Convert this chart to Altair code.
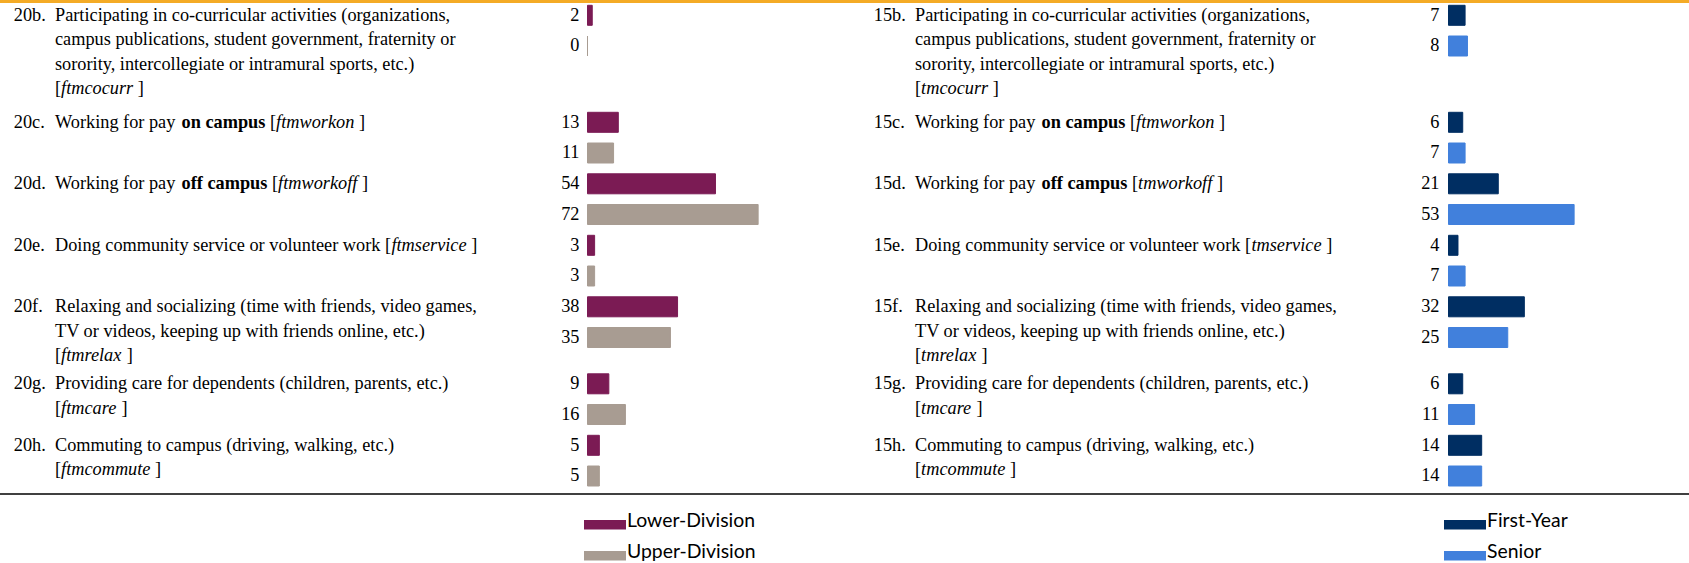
import re
import altair as alt
import pandas as pd

# ---------------- data ----------------
left_ids = ["20b.", "20c.", "20d.", "20e.", "20f.", "20g.", "20h."]
right_ids = ["15b.", "15c.", "15d.", "15e.", "15f.", "15g.", "15h."]

left_labels = [
    ["Participating in co-curricular activities (organizations,",
     "campus publications, student government, fraternity or",
     "sorority, intercollegiate or intramural sports, etc.)",
     "[*ftmcocurr* ]"],
    ["Working for pay **on campus** [*ftmworkon* ]"],
    ["Working for pay **off campus** [*ftmworkoff* ]"],
    ["Doing community service or volunteer work [*ftmservice* ]"],
    ["Relaxing and socializing (time with friends, video games,",
     "TV or videos, keeping up with friends online, etc.)",
     "[*ftmrelax* ]"],
    ["Providing care for dependents (children, parents, etc.)",
     "[*ftmcare* ]"],
    ["Commuting to campus (driving, walking, etc.)",
     "[*ftmcommute* ]"],
]
right_labels = [
    ["Participating in co-curricular activities (organizations,",
     "campus publications, student government, fraternity or",
     "sorority, intercollegiate or intramural sports, etc.)",
     "[*tmcocurr* ]"],
    ["Working for pay **on campus** [*ftmworkon* ]"],
    ["Working for pay **off campus** [*tmworkoff* ]"],
    ["Doing community service or volunteer work [*tmservice* ]"],
    ["Relaxing and socializing (time with friends, video games,",
     "TV or videos, keeping up with friends online, etc.)",
     "[*tmrelax* ]"],
    ["Providing care for dependents (children, parents, etc.)",
     "[*tmcare* ]"],
    ["Commuting to campus (driving, walking, etc.)",
     "[*tmcommute* ]"],
]

left_series = ["Lower-Division", "Upper-Division"]
right_series = ["First-Year", "Senior"]
lower_division = [2, 13, 54, 3, 38, 9, 5]
upper_division = [0, 11, 72, 3, 35, 16, 5]
first_year = [7, 6, 21, 4, 32, 6, 14]
senior = [8, 7, 53, 7, 25, 11, 14]

left_colors = ["#7B1B54", "#A89C92"]
right_colors = ["#002E62", "#4180DC"]

# ---------------- layout / styling ----------------
W, H = 1689, 563
FONT = "Liberation Serif"
FS = 18.3
PANEL_X = [0, 860]
BAR_START = [587.5, 1448.5]
PX_PER_UNIT = 2.37
NUM_X = 13.8
BODY_X = 55.0
VAL_X = 579.5
LINE_H = 24.5
BAR_GAP = 30.7
BAR_H = 20
FIRST_CENTER = 15.3

# Times (Liberation Serif metric-compatible) advance widths, per 1000 em
_reg = dict(zip("abcdefghijklmnopqrstuvwxyz",
                [444, 500, 444, 500, 444, 333, 500, 500, 278, 278, 500, 278, 778,
                 500, 500, 500, 500, 333, 389, 278, 500, 500, 722, 500, 500, 444]))
_reg.update(dict(zip("ABCDEFGHIJKLMNOPQRSTUVWXYZ",
                     [722, 667, 667, 722, 611, 556, 722, 722, 333, 389, 722, 611, 889,
                      722, 722, 556, 722, 667, 556, 611, 722, 722, 944, 722, 722, 611])))
_reg.update({" ": 250, ",": 250, ".": 250, "-": 333, "(": 333, ")": 333, "[": 333,
             "]": 333, ":": 278, ";": 278})
_reg.update({d: 500 for d in "0123456789"})
_bold = dict(zip("abcdefghijklmnopqrstuvwxyz",
                 [500, 556, 444, 556, 444, 333, 500, 556, 278, 333, 556, 278, 833,
                  556, 500, 556, 556, 444, 389, 333, 556, 500, 722, 500, 500, 444]))
_bold.update({" ": 250})
_ital = dict(zip("abcdefghijklmnopqrstuvwxyz",
                 [500, 500, 444, 500, 444, 278, 500, 500, 278, 278, 444, 278, 722,
                  500, 500, 500, 500, 389, 389, 278, 500, 444, 667, 444, 444, 389]))
_ital.update({" ": 250})
METRICS = {"regular": _reg, "bold": _bold, "italic": _ital}


def text_width(s, style):
    m = METRICS[style]
    return sum(m.get(c, 500) for c in s) * FS / 1000.0


def parse(line):
    segs = []
    for part in re.split(r"(\*\*.+?\*\*|\*.+?\*)", line):
        if not part:
            continue
        if part.startswith("**"):
            segs.append((part[2:-2], "bold"))
        elif part.startswith("*"):
            segs.append((part[1:-1], "italic"))
        else:
            segs.append((part, "regular"))
    return segs


text_rows = []
bar_rows = []
for p, (ids, labels, series, vals) in enumerate([
        (left_ids, left_labels, left_series, [lower_division, upper_division]),
        (right_ids, right_labels, right_series, [first_year, senior])]):
    ox = PANEL_X[p]
    yc = FIRST_CENTER
    for i, lines in enumerate(labels):
        base = yc + 5.4
        text_rows.append(dict(x=ox + NUM_X, y=base, text=ids[i], style="regular", kind="label"))
        for k, line in enumerate(lines):
            cx = ox + BODY_X
            for seg, style in parse(line):
                stripped = seg.lstrip(" ")
                cx += text_width(seg[: len(seg) - len(stripped)], style)
                if stripped.strip():
                    text_rows.append(dict(x=cx, y=base + k * LINE_H, text=stripped,
                                          style=style, kind="label"))
                cx += text_width(stripped, style)
        for j, s in enumerate(series):
            c = yc + j * BAR_GAP
            v = vals[j][i]
            bar_rows.append(dict(panel=p, series=s, value=v, y0=c - BAR_H / 2, y1=c + BAR_H / 2))
            text_rows.append(dict(x=ox + VAL_X, y=c + 5.4, text=str(v), style="regular", kind="value"))
        yc += max(61.5, 30 * len(lines) - 13)

text_df = pd.DataFrame(text_rows)
bar_df = pd.DataFrame(bar_rows)
line_df = pd.DataFrame({"k": [0]})

X_PIX = alt.X("x:Q", scale=None, axis=None)
Y_PIX = alt.Y("y:Q", scale=None, axis=None)

top_rule = alt.Chart(line_df).mark_rule(color="#F4AB26", strokeWidth=3).encode(
    x=alt.value(0), x2=alt.value(W), y=alt.value(1.5))
bottom_rule = alt.Chart(line_df).mark_rule(color="black", strokeWidth=1.5).encode(
    x=alt.value(0), x2=alt.value(W), y=alt.value(494))


def text_layer(style, kind, align):
    mark_kw = dict(font=FONT, fontSize=FS, color="black", align=align, baseline="alphabetic")
    if style == "bold":
        mark_kw["fontWeight"] = "bold"
    if style == "italic":
        mark_kw["fontStyle"] = "italic"
    return alt.Chart(text_df).transform_filter(
        (alt.datum.style == style) & (alt.datum.kind == kind)
    ).mark_text(**mark_kw).encode(x=X_PIX, y=Y_PIX, text="text:N")


def bar_layer(p, series, colors, legend_x):
    sc = alt.Scale(domain=series, range=colors)
    return alt.Chart(bar_df).transform_filter(alt.datum.panel == p).mark_rect(strokeWidth=1).encode(
        x=alt.X("value:Q", axis=None,
                scale=alt.Scale(domain=[0, 100], range=[BAR_START[p], BAR_START[p] + 100 * PX_PER_UNIT])),
        x2=alt.datum(0),
        y=alt.Y("y0:Q", scale=None, axis=None),
        y2="y1:Q",
        color=alt.Color("series:N", scale=sc, legend=alt.Legend(
            title=None, orient="none", legendX=legend_x, legendY=513.6,
            symbolType="M-1,-0.343H1V0.105H-1Z", symbolSize=1764, symbolStrokeWidth=0,
            labelFont="Lato", labelFontSize=19.4, labelColor="black", labelOffset=1,
            labelBaseline="alphabetic", clipHeight=27.3, rowPadding=0, padding=0)),
        stroke=alt.Stroke("series:N", scale=sc, legend=None),
    )


chart = alt.layer(
    top_rule,
    bottom_rule,
    bar_layer(0, left_series, left_colors, 584),
    bar_layer(1, right_series, right_colors, 1444),
    text_layer("regular", "label", "left"),
    text_layer("bold", "label", "left"),
    text_layer("italic", "label", "left"),
    text_layer("regular", "value", "right"),
).resolve_scale(
    x="independent", color="independent", stroke="independent"
).resolve_legend(color="independent").properties(
    width=W, height=H, padding=0, autosize=alt.AutoSizeParams(type="none"),
    background="white",
).configure_view(stroke=None)

chart.save("out.html", embed_options={"renderer": "svg", "actions": False})
